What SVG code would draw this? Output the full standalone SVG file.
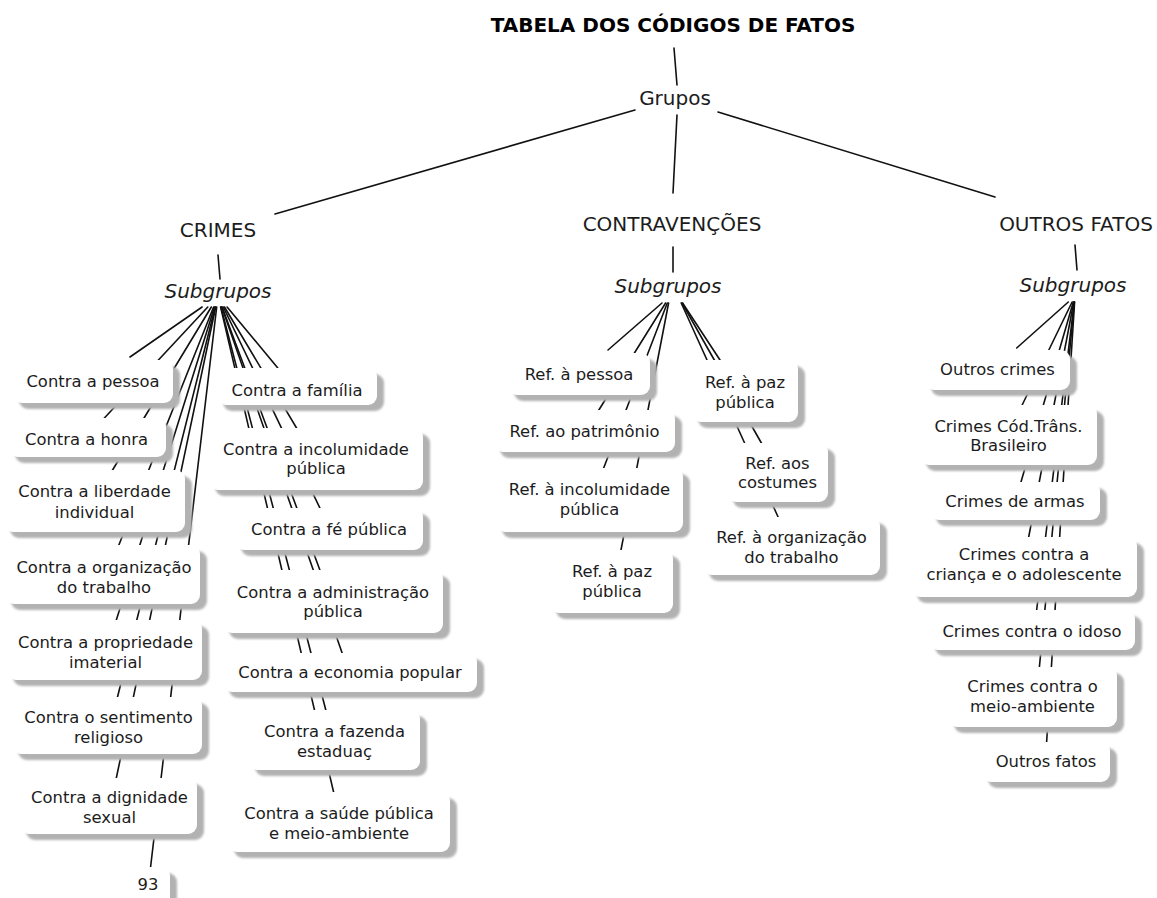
<svg xmlns="http://www.w3.org/2000/svg" width="1157" height="898" viewBox="0 0 1157 898">
<defs>
<filter id="soft" x="-10%" y="-20%" width="120%" height="140%"><feGaussianBlur stdDeviation="1.2"/></filter>
<style>
text{font-family:"DejaVu Sans",Verdana,sans-serif;fill:#1c1c1c;text-anchor:middle}
.t{font-size:20px;font-weight:bold;fill:#000}
.h{font-size:20px}
.s{font-size:20px;font-style:italic}
.b{font-size:16.4px}
.sh{fill:#b2b2b2;filter:url(#soft)}
.bx{fill:#fff}
#connectors line{stroke:#111;stroke-width:1.6;stroke-linecap:round}
</style>
</defs>
<rect width="1157" height="898" fill="#fff"/>

<text class="t" x="673" y="32">TABELA DOS CÓDIGOS DE FATOS</text>

<g id="connectors">
<!-- upper tree -->
<line x1="674" y1="48" x2="677" y2="85"/>
<line x1="635" y1="110" x2="275" y2="214"/>
<line x1="677" y1="115" x2="673" y2="193"/>
<line x1="718" y1="112" x2="995" y2="197"/>
<line x1="218" y1="255" x2="220" y2="279"/>
<line x1="673" y1="247" x2="673" y2="272"/>
<line x1="1075" y1="245" x2="1077" y2="270"/>
<!-- CRIMES fan, left column -->
<line x1="202.1" y1="307" x2="130" y2="357"/>
<line x1="207.8" y1="307" x2="98.8" y2="424"/>
<line x1="211.3" y1="307" x2="106.5" y2="480"/>
<line x1="213.6" y1="307" x2="114.9" y2="555"/>
<line x1="214.5" y1="307" x2="113.2" y2="630"/>
<line x1="215.2" y1="307" x2="115.0" y2="707"/>
<line x1="215.7" y1="307" x2="114.2" y2="788"/>
<line x1="216.7" y1="307" x2="149.4" y2="877"/>
<!-- CRIMES fan, right column -->
<line x1="227.1" y1="307" x2="277.8" y2="368"/>
<line x1="224.5" y1="307" x2="302.5" y2="438"/>
<line x1="223.3" y1="307" x2="324.7" y2="518"/>
<line x1="222.1" y1="307" x2="323.6" y2="580"/>
<line x1="221.8" y1="307" x2="345.6" y2="663"/>
<line x1="220.9" y1="307" x2="328.4" y2="720"/>
<line x1="220.6" y1="307" x2="335.9" y2="802"/>
<!-- CONTRAVENÇÕES fan -->
<line x1="662" y1="303" x2="608" y2="350"/>
<line x1="665.6" y1="303" x2="597.6" y2="412"/>
<line x1="667.3" y1="303" x2="602.9" y2="470"/>
<line x1="668.6" y1="303" x2="620.6" y2="552"/>
<line x1="682.6" y1="303" x2="721.3" y2="362"/>
<line x1="682" y1="303" x2="762.5" y2="445"/>
<line x1="681.2" y1="303" x2="779" y2="519"/>
<!-- OUTROS FATOS fan -->
<line x1="1068.3" y1="302" x2="1016.7" y2="348"/>
<line x1="1072.1" y1="302" x2="1021.2" y2="407"/>
<line x1="1073.3" y1="302" x2="1020.4" y2="484"/>
<line x1="1073.8" y1="302" x2="1028.3" y2="539"/>
<line x1="1074.3" y1="302" x2="1036.4" y2="612"/>
<line x1="1074.4" y1="302" x2="1039.2" y2="669"/>
<line x1="1074.6" y1="302" x2="1046.5" y2="744"/>
</g>

<!-- headings -->
<g id="grupos"><text class="h" x="675" y="105">Grupos</text></g>
<g id="crimes"><text class="h" x="218" y="237">CRIMES</text></g>
<g id="contravencoes"><text class="h" x="672" y="231">CONTRAVENÇÕES</text></g>
<g id="outros"><text class="h" x="1076" y="231">OUTROS FATOS</text></g>
<g id="sub-crimes"><text class="s" x="218" y="298">Subgrupos</text></g>
<g id="sub-contravencoes"><text class="s" x="668" y="293">Subgrupos</text></g>
<g id="sub-outros"><text class="s" x="1073" y="292">Subgrupos</text></g>

<!-- CRIMES, left column -->
<g id="c-pessoa"><rect class="sh" x="19" y="366" width="161" height="43" rx="9"/><rect class="bx" x="13" y="360" width="160" height="43" rx="9"/><text class="b" x="93" y="387">Contra a pessoa</text></g>
<g id="c-honra"><rect class="sh" x="15" y="424" width="158" height="39" rx="9"/><rect class="bx" x="9" y="418" width="157" height="39" rx="9"/><text class="b" x="86.5" y="445">Contra a honra</text></g>
<g id="c-liberdade"><rect class="sh" x="10" y="476" width="182" height="62" rx="9"/><rect class="bx" x="4" y="470" width="181" height="62" rx="9"/><text class="b" x="94.5" y="497">Contra a liberdade</text><text class="b" x="94.5" y="518">individual</text></g>
<g id="c-organizacao"><rect class="sh" x="11" y="551" width="196" height="59" rx="9"/><rect class="bx" x="5" y="545" width="195" height="59" rx="9"/><text class="b" x="104" y="573">Contra a organização</text><text class="b" x="104" y="593">do trabalho</text></g>
<g id="c-propriedade"><rect class="sh" x="13" y="626" width="196" height="60" rx="9"/><rect class="bx" x="7" y="620" width="195" height="60" rx="9"/><text class="b" x="105.5" y="648">Contra a propriedade</text><text class="b" x="105.5" y="668">imaterial</text></g>
<g id="c-religioso"><rect class="sh" x="18" y="703" width="191" height="57" rx="9"/><rect class="bx" x="12" y="697" width="190" height="57" rx="9"/><text class="b" x="108.5" y="723">Contra o sentimento</text><text class="b" x="108.5" y="743">religioso</text></g>
<g id="c-dignidade"><rect class="sh" x="26" y="784" width="178" height="56" rx="9"/><rect class="bx" x="20" y="778" width="177" height="56" rx="9"/><text class="b" x="109.5" y="803">Contra a dignidade</text><text class="b" x="109.5" y="823">sexual</text></g>
<g id="c-93"><rect class="sh" x="132" y="873" width="45" height="40" rx="9"/><rect class="bx" x="126" y="867" width="44" height="40" rx="9"/><text class="b" x="148" y="890">93</text></g>

<!-- CRIMES, right column -->
<g id="c-familia"><rect class="sh" x="223" y="374" width="161" height="37" rx="9"/><rect class="bx" x="217" y="368" width="160" height="37" rx="9"/><text class="b" x="297" y="396">Contra a família</text></g>
<g id="c-incolumidade"><rect class="sh" x="215" y="434" width="215" height="62" rx="9"/><rect class="bx" x="209" y="428" width="214" height="62" rx="9"/><text class="b" x="316" y="455">Contra a incolumidade</text><text class="b" x="316" y="474">pública</text></g>
<g id="c-fe"><rect class="sh" x="241" y="514" width="189" height="42" rx="9"/><rect class="bx" x="235" y="508" width="188" height="42" rx="9"/><text class="b" x="329" y="535">Contra a fé pública</text></g>
<g id="c-administracao"><rect class="sh" x="229" y="576" width="221" height="63" rx="9"/><rect class="bx" x="223" y="570" width="220" height="63" rx="9"/><text class="b" x="333" y="598">Contra a administração</text><text class="b" x="333" y="617">pública</text></g>
<g id="c-economia"><rect class="sh" x="229" y="659" width="255" height="39" rx="9"/><rect class="bx" x="223" y="653" width="254" height="39" rx="9"/><text class="b" x="350" y="678">Contra a economia popular</text></g>
<g id="c-fazenda"><rect class="sh" x="255" y="716" width="172" height="60" rx="9"/><rect class="bx" x="249" y="710" width="171" height="60" rx="9"/><text class="b" x="334.5" y="737">Contra a fazenda</text><text class="b" x="334.5" y="757">estaduaç</text></g>
<g id="c-saude"><rect class="sh" x="234" y="798" width="223" height="60" rx="9"/><rect class="bx" x="228" y="792" width="222" height="60" rx="9"/><text class="b" x="339" y="819">Contra a saúde pública</text><text class="b" x="339" y="839">e meio-ambiente</text></g>

<!-- CONTRAVENÇÕES -->
<g id="v-pessoa"><rect class="sh" x="514" y="359" width="143" height="42" rx="9"/><rect class="bx" x="508" y="353" width="142" height="42" rx="9"/><text class="b" x="579" y="380">Ref. à pessoa</text></g>
<g id="v-patrimonio"><rect class="sh" x="500" y="416" width="182" height="42" rx="9"/><rect class="bx" x="494" y="410" width="181" height="42" rx="9"/><text class="b" x="584.5" y="437">Ref. ao patrimônio</text></g>
<g id="v-incolumidade"><rect class="sh" x="502" y="474" width="188" height="64" rx="9"/><rect class="bx" x="496" y="468" width="187" height="64" rx="9"/><text class="b" x="589.5" y="495">Ref. à incolumidade</text><text class="b" x="589.5" y="515">pública</text></g>
<g id="v-paz-b"><rect class="sh" x="556" y="556" width="124" height="63" rx="9"/><rect class="bx" x="550" y="550" width="123" height="63" rx="9"/><text class="b" x="612" y="577">Ref. à paz</text><text class="b" x="612" y="597">pública</text></g>
<g id="v-paz-a"><rect class="sh" x="698" y="366" width="107" height="62" rx="9"/><rect class="bx" x="692" y="360" width="106" height="62" rx="9"/><text class="b" x="745" y="388">Ref. à paz</text><text class="b" x="745" y="408">pública</text></g>
<g id="v-costumes"><rect class="sh" x="733" y="449" width="102" height="59" rx="9"/><rect class="bx" x="727" y="443" width="101" height="59" rx="9"/><text class="b" x="777.5" y="469">Ref. aos</text><text class="b" x="777.5" y="488">costumes</text></g>
<g id="v-organizacao"><rect class="sh" x="709" y="523" width="178" height="58" rx="9"/><rect class="bx" x="703" y="517" width="177" height="58" rx="9"/><text class="b" x="791.5" y="543">Ref. à organização</text><text class="b" x="791.5" y="563">do trabalho</text></g>

<!-- OUTROS FATOS -->
<g id="o-crimes"><rect class="sh" x="931" y="356" width="146" height="40" rx="9"/><rect class="bx" x="925" y="350" width="145" height="40" rx="9"/><text class="b" x="997.5" y="375">Outros crimes</text></g>
<g id="o-transito"><rect class="sh" x="926" y="411" width="178" height="60" rx="9"/><rect class="bx" x="920" y="405" width="177" height="60" rx="9"/><text class="b" x="1008.5" y="432">Crimes Cód.Trâns.</text><text class="b" x="1008.5" y="451">Brasileiro</text></g>
<g id="o-armas"><rect class="sh" x="936" y="488" width="171" height="38" rx="9"/><rect class="bx" x="930" y="482" width="170" height="38" rx="9"/><text class="b" x="1015" y="507">Crimes de armas</text></g>
<g id="o-crianca"><rect class="sh" x="917" y="543" width="227" height="60" rx="9"/><rect class="bx" x="911" y="537" width="226" height="60" rx="9"/><text class="b" x="1024" y="560">Crimes contra a</text><text class="b" x="1024" y="580">criança e o adolescente</text></g>
<g id="o-idoso"><rect class="sh" x="935" y="616" width="207" height="40" rx="9"/><rect class="bx" x="929" y="610" width="206" height="40" rx="9"/><text class="b" x="1032" y="637">Crimes contra o idoso</text></g>
<g id="o-meio"><rect class="sh" x="954" y="673" width="170" height="60" rx="9"/><rect class="bx" x="948" y="667" width="169" height="60" rx="9"/><text class="b" x="1032.5" y="692">Crimes contra o</text><text class="b" x="1032.5" y="712">meio-ambiente</text></g>
<g id="o-fatos"><rect class="sh" x="988" y="748" width="129" height="40" rx="9"/><rect class="bx" x="982" y="742" width="128" height="40" rx="9"/><text class="b" x="1046" y="767">Outros fatos</text></g>
</svg>
